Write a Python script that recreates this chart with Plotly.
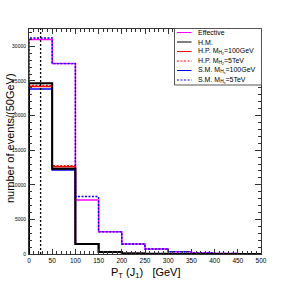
import plotly.graph_objects as go

# ---------------- data ----------------
bin_edges = [0, 50, 100, 150, 200, 250, 300, 350, 400, 450, 500]
effective = [31000, 27500, 7800, 3200, 1450, 720, 320, 160, 80, 40]
hm        = [24650, 12300, 1450, 300, 90, 30, 12, 5, 2, 1]
hp_100    = [24200, 12600, 1480, 300, 90, 30, 12, 5, 2, 1]
hp_5tev   = [24350, 12750, 1500, 310, 90, 30, 12, 5, 2, 1]
sm_100    = [23850, 12150, 1400, 290, 85, 28, 11, 5, 2, 1]
sm_5tev   = [31200, 27500, 8300, 3200, 1450, 720, 330, 160, 80, 40]
cut_x = 25

names = ["Effective", "H.M.",
         "H.P. M<sub>H<sub>2</sub></sub>=100GeV", "H.P. M<sub>H<sub>2</sub></sub>=5TeV",
         "S.M. M<sub>H<sub>s</sub></sub>=100GeV", "S.M. M<sub>H<sub>s</sub></sub>=5TeV"]
series = [effective, hm, hp_100, hp_5tev, sm_100, sm_5tev]
colors = ["#ff00ff", "#000000", "#ff0000", "#ff0000", "#0000ff", "#0000ff"]
dashes = ["solid", "solid", "solid", "2px,1.5px", "solid", "2px,1.5px"]
widths = [1.5, 2, 1.5, 1.3, 1.5, 1.4]
draw_order = [0, 2, 3, 4, 5, 1]

def step(vals):
    xs = [bin_edges[0]] + bin_edges[:-1] + [bin_edges[-1], bin_edges[-1]]
    ys = [0] + list(vals) + [vals[-1], 0]
    return xs, ys

fig = go.Figure()
for i in draw_order:
    xs, ys = step(series[i])
    fig.add_trace(go.Scatter(x=xs, y=ys, mode="lines", line_shape="hv",
                             line=dict(color=colors[i], width=widths[i], dash=dashes[i]),
                             name=names[i], showlegend=False, hoverinfo="skip"))

YMAX = 32500
fig.add_trace(go.Scatter(x=[cut_x, cut_x], y=[0, YMAX], mode="lines",
                         line=dict(color="black", width=1.3, dash="2px,2px"), showlegend=False,
                         hoverinfo="skip"))

# plot area in pixels
L, R, T, B = 29, 261, 29, 254
W, H = 291, 283
def px(x):
    return (x - L) / (R - L)
def py(y):
    return (B - y) / (B - T)

shapes = []
annotations = []
# manual legend box
shapes.append(dict(type="rect", xref="paper", yref="paper",
                   x0=px(174.5), x1=px(261.5), y0=py(85), y1=py(28.5),
                   line=dict(color="#555555", width=1), fillcolor="white", layer="above"))
ys_leg = [32.5, 42, 51.5, 61, 70.5, 80]
leg_w = [1, 1, 1, 1, 1, 1]
for i, yy in enumerate(ys_leg):
    shapes.append(dict(type="line", xref="paper", yref="paper",
                       x0=px(177), x1=px(191.5), y0=py(yy), y1=py(yy),
                       line=dict(color=colors[i], width=leg_w[i], dash=dashes[i]),
                       layer="above"))
    annotations.append(dict(xref="paper", yref="paper", x=px(196), y=py(yy),
                            xanchor="left", yanchor="middle", showarrow=False,
                            text=names[i], font=dict(size=7, color="black")))

annotations.append(dict(xref="paper", yref="paper", x=px(183), y=py(273),
                        xanchor="right", yanchor="middle", showarrow=False,
                        text="P<sub>T</sub> (J<sub>1</sub>)\u00a0\u00a0\u00a0[GeV]",
                        font=dict(size=11, color="black")))
annotations.append(dict(xref="paper", yref="paper", x=px(10), y=py(138),
                        xanchor="center", yanchor="middle", showarrow=False, textangle=-90,
                        text="number of events/(50GeV)",
                        font=dict(size=11, color="black")))

fig.update_layout(
    width=W, height=H,
    margin=dict(l=L, r=W - R, t=T, b=H - B, pad=0),
    paper_bgcolor="white", plot_bgcolor="white",
    font=dict(family="Liberation Sans, Arial, sans-serif", color="black"),
    showlegend=False, hovermode=False,
    shapes=shapes, annotations=annotations,
)
fig.update_xaxes(range=[0, 500], showgrid=False, zeroline=False,
                 showline=True, linecolor="#333333", linewidth=1, mirror="ticks",
                 ticks="inside", ticklen=5, tickcolor="#333333",
                 tick0=0, dtick=50, tickfont=dict(size=6.5), ticklabelstandoff=0,
                 minor=dict(ticks="inside", ticklen=3, dtick=10, tickcolor="#333333", showgrid=False))
fig.update_yaxes(range=[0, YMAX], showgrid=False, zeroline=False,
                 showline=True, linecolor="#333333", linewidth=1, mirror="ticks",
                 ticks="inside", ticklen=6, tickcolor="#333333",
                 tick0=0, dtick=5000, tickformat="d", tickfont=dict(size=5), ticklabelstandoff=1,
                 minor=dict(ticks="inside", ticklen=3, dtick=1000, tickcolor="#333333", showgrid=False))

fig.write_html("out.html", config={"displayModeBar": False},
               post_script="document.body.style.margin='0';")
